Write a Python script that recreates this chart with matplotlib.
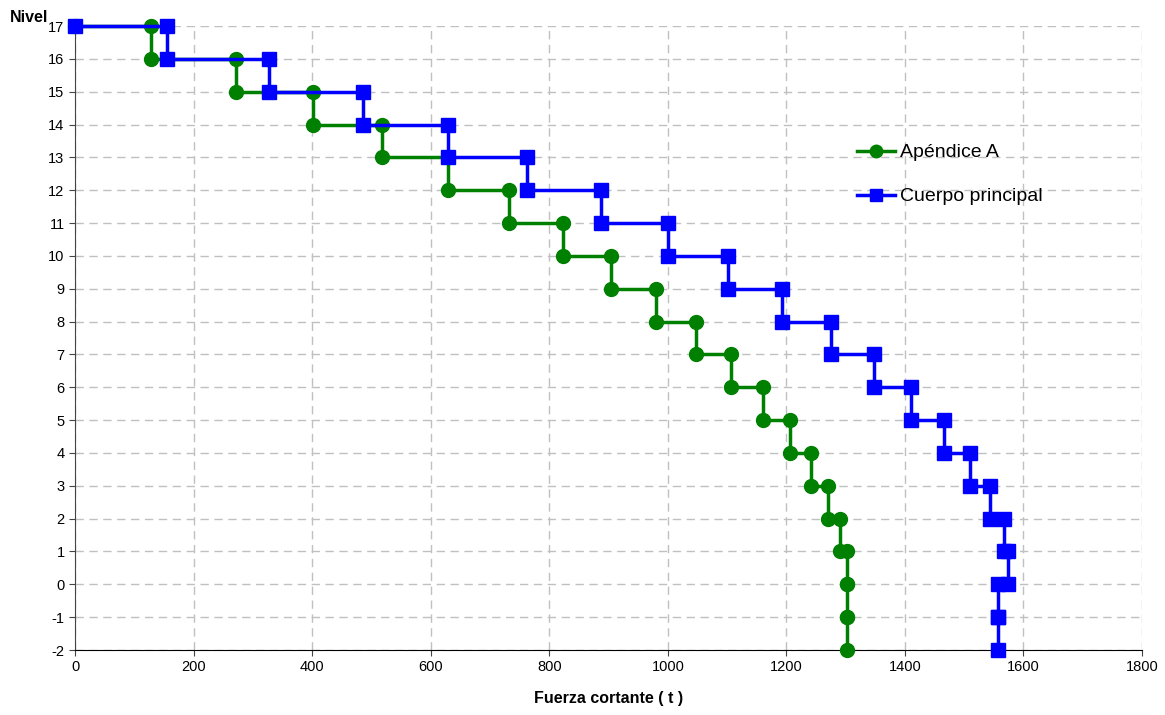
"""
Cortante por nivel: Apendice A vs Cuerpo principal
"""

import numpy as np
import matplotlib
matplotlib.use("Agg")
import matplotlib.pyplot as plt

plt.rcParams['font.family'] = ['Liberation Sans', 'DejaVu Sans']
plt.rcParams['axes.unicode_minus'] = False

# Niveles (de arriba hacia abajo) y cortante por entrepiso (t)
niveles = [17, 16, 15, 14, 13, 12, 11, 10, 9, 8, 7, 6, 5, 4, 3, 2, 1, 0, -1, -2]

cortante_apendice = [128, 272, 401, 518, 629, 732, 823, 904, 980, 1048,
                     1106, 1161, 1206, 1242, 1270, 1290, 1302, 1302, 1302]

cortante_cuerpo = [155, 328, 486, 629, 763, 888, 1001, 1101, 1192, 1275,
                   1348, 1410, 1466, 1510, 1543, 1567, 1574, 1557, 1557]

etiquetas = ["Apéndice A", "Cuerpo principal"]


def escalera(cortantes):
    '''Arma la poligonal escalonada a partir del cortante de cada entrepiso'''
    xs = [0]
    ys = [niveles[0]]
    for k, v in enumerate(cortantes):
        xs += [v, v]
        ys += [niveles[k], niveles[k + 1]]
    return xs, ys


def main():
    fig = plt.figure(figsize=(11.65, 7.15), dpi=100)
    ax = fig.add_axes([0.0644, 0.0909, 0.9159, 0.8727])

    xa, ya = escalera(cortante_apendice)
    xc, yc = escalera(cortante_cuerpo)

    ax.plot(xa, ya, color='#008000', lw=2.5, marker='o', ms=10,
            label=etiquetas[0], clip_on=False, zorder=3)
    ax.plot(xc, yc, color='#0000ff', lw=2.5, marker='s', ms=10,
            label=etiquetas[1], clip_on=False, zorder=4)

    # Ejes
    ax.set_xlim(0, 1800)
    ax.set_ylim(-2, 17)
    ax.set_xticks(np.arange(0, 1801, 200))
    ax.set_yticks(np.arange(-2, 18, 1))
    ax.tick_params(labelsize=10.5, direction='out', length=4, color='#444444')
    ax.grid(True, color='#c0c0c0', ls=(0, (6, 4)), lw=1)
    ax.set_axisbelow(True)
    for s in ['top', 'right']:
        ax.spines[s].set_visible(False)
    ax.spines['left'].set_color('#444444')
    ax.spines['bottom'].set_color('black')

    ax.set_xlabel("Fuerza cortante ( t )", fontsize=11.5, fontweight='bold',
                  labelpad=12)
    fig.text(0.0086, 0.975, "Nivel", fontsize=11.5, fontweight='bold',
             ha='left', va='center')

    ax.legend(loc='center left', bbox_to_anchor=(0.733, 0.762), frameon=False,
              fontsize=14, handlelength=1.96, handletextpad=0.26,
              labelspacing=1.36, borderpad=0, borderaxespad=0, markerscale=0.9)

    fig.savefig('out.png', dpi=100)


if __name__ == '__main__':
    main()
